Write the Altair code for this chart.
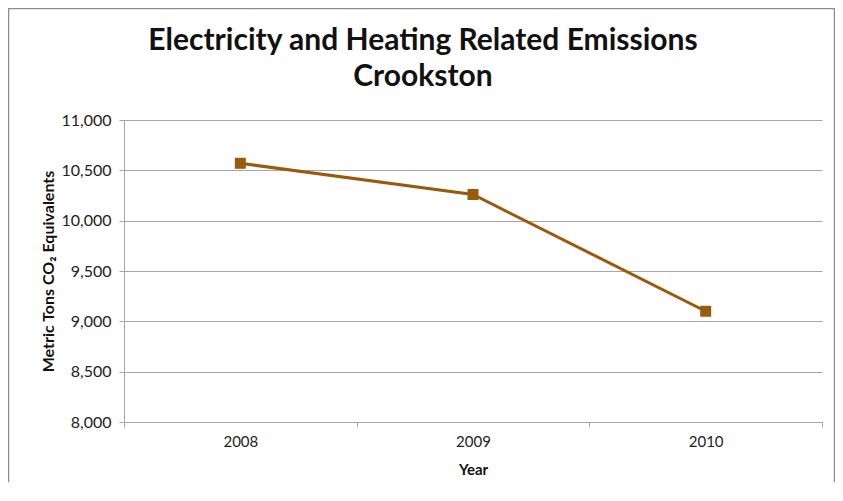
import altair as alt
import pandas as pd

years = ["2008", "2009", "2010"]
emissions = [10570, 10260, 9100]
y_ticks = [8000, 8500, 9000, 9500, 10000, 10500, 11000]
title_lines = ["Electricity and Heating Related Emissions", "Crookston"]

df = pd.DataFrame({"Year": years, "Emissions": emissions})

LINE_COLOR = "#9A5A0C"
GRID = "#A6A6A6"
FONT = "Lato"

base = alt.Chart(df)

line = base.mark_line(color=LINE_COLOR, strokeWidth=3).encode(
    x=alt.X("Year:O",
            scale=alt.Scale(paddingInner=0, paddingOuter=0),
            axis=alt.Axis(title="Year", labelAngle=0, tickBand="extent",
                          domainColor=GRID, tickColor=GRID, tickSize=5,
                          labelPadding=7, labelFontSize=15, labelColor="#222222",
                          labelFont=FONT, titleFont=FONT, titleFontSize=15,
                          titleFontWeight="bold", titlePadding=13,
                          titleColor="#111111", grid=False)),
    y=alt.Y("Emissions:Q",
            scale=alt.Scale(domain=[8000, 11000], nice=False, zero=False),
            axis=alt.Axis(title="Metric Tons CO₂ Equivalents", values=y_ticks,
                          format=",.0f", domainColor=GRID, tickColor=GRID,
                          tickSize=5, labelPadding=8, labelFontSize=16,
                          labelColor="#222222", labelFont=FONT,
                          titleFont=FONT, titleFontSize=16,
                          titleFontWeight="bold", titleColor="#111111",
                          titlePadding=4, gridColor=GRID, grid=True)),
)

points = base.mark_point(shape="square", filled=True, size=121,
                         color=LINE_COLOR, opacity=1).encode(
    x="Year:O", y="Emissions:Q"
)

border = alt.Chart(pd.DataFrame({"k": [0]})).mark_rect(
    fill=None, stroke="#8C8C8C", strokeWidth=1.5
).encode(
    x=alt.value(-115.5), x2=alt.value(710.5),
    y=alt.value(-111.5), y2=alt.value(420),
)

title = alt.Chart(pd.DataFrame({"t": ["\n".join(title_lines)]})).mark_text(
    font=FONT, fontSize=30, fontWeight="bold", color="#111111",
    align="center", baseline="alphabetic", lineBreak="\n", lineHeight=36,
).encode(
    text="t:N", x=alt.value(299), y=alt.value(-70),
)

chart = alt.layer(border, line, points, title).properties(
    width=698,
    height=302,
    padding={"left": 116, "top": 112, "right": 13, "bottom": 60},
    autosize=alt.AutoSizeParams(type="none"),
).configure_view(stroke=None)

chart.save("out.html", embed_options={"renderer": "svg", "actions": False})
